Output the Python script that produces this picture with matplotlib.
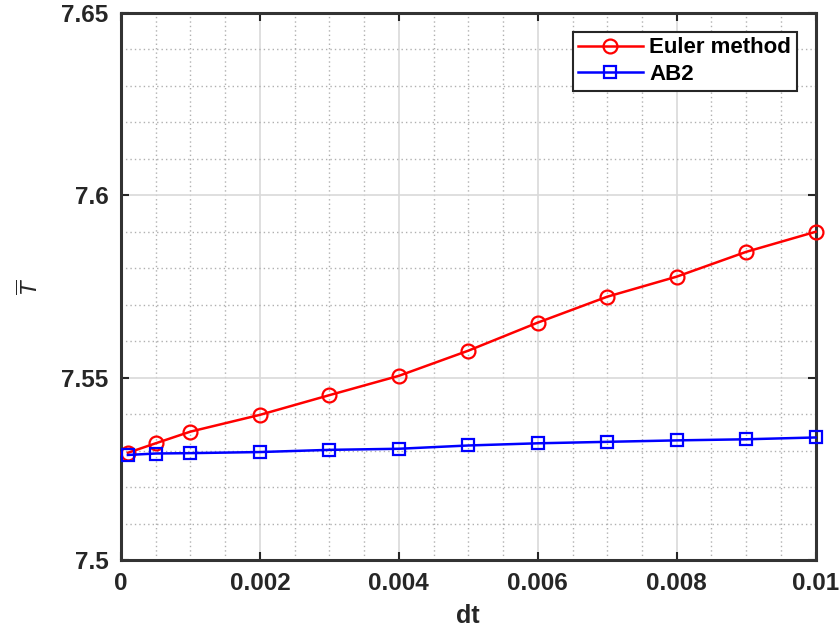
import matplotlib
matplotlib.use("Agg")
import matplotlib.pyplot as plt
from matplotlib.ticker import MultipleLocator

plt.rcParams['font.family'] = ['Liberation Sans', 'DejaVu Sans']

dt = [0.0001, 0.0005, 0.001, 0.002, 0.003, 0.004, 0.005, 0.006, 0.007, 0.008, 0.009, 0.01]
euler = [7.5294, 7.5320, 7.5352, 7.5398, 7.5452, 7.5505, 7.5574, 7.5651, 7.5722, 7.5777, 7.5845, 7.5900]
ab2 = [7.5288, 7.5292, 7.5293, 7.5296, 7.5302, 7.5305, 7.5314, 7.5320, 7.5324, 7.5328, 7.5331, 7.5336]

x_ticks = [0, 0.002, 0.004, 0.006, 0.008, 0.01]
x_tick_labels = ['0', '0.002', '0.004', '0.006', '0.008', '0.01']
y_ticks = [7.5, 7.55, 7.6, 7.65]
y_tick_labels = ['7.5', '7.55', '7.6', '7.65']

fig = plt.figure(figsize=(8.4, 6.37), dpi=100)
ax = fig.add_axes([0.144, 0.1209, 0.827, 0.8587])

ax.plot(dt, euler, color='red', lw=1.8, marker='o', ms=10, mfc='none',
        mew=1.6, label='Euler method', zorder=3, clip_on=False)
ax.plot(dt, ab2, color='blue', lw=1.8, marker='s', ms=8, mfc='none',
        mew=1.6, label='AB2', zorder=3, clip_on=False)

ax.set_xlim(0, 0.01)
ax.set_ylim(7.5, 7.65)
ax.set_xticks(x_ticks)
ax.set_xticklabels(x_tick_labels)
ax.set_yticks(y_ticks)
ax.set_yticklabels(y_tick_labels)
ax.xaxis.set_minor_locator(MultipleLocator(0.0005))
ax.yaxis.set_minor_locator(MultipleLocator(0.01))

ax.grid(which='major', color='#d9d9d9', lw=1.2, ls='-')
ax.grid(which='minor', color='#b0b0b0', lw=1.0, ls=(0, (1, 2.2)))
ax.set_axisbelow(True)

ax.tick_params(which='major', direction='in', length=6, width=1.5,
               top=True, right=True, labelsize=17.5, colors='#262626', pad=9)
ax.tick_params(which='minor', length=0, top=True, right=True)
for lab in ax.get_xticklabels() + ax.get_yticklabels():
    lab.set_fontweight('bold')
for s in ax.spines.values():
    s.set_linewidth(2.2)
    s.set_color('#333333')

ax.set_xlabel('dt', fontsize=18, fontweight='bold', color='#262626', labelpad=6)
ax.set_ylabel(r'$\overline{T}$', fontsize=16, color='#262626')
ax.yaxis.set_label_coords(-0.112, 0.5)

leg = ax.legend(loc='upper right', prop={'weight': 'bold', 'size': 16},
                fancybox=False, edgecolor='#262626', framealpha=1,
                borderpad=0.25, handlelength=2.9, handletextpad=0.3,
                labelspacing=0.25, borderaxespad=0.85)
leg.get_frame().set_linewidth(1.5)

fig.savefig('out.png', dpi=100)
